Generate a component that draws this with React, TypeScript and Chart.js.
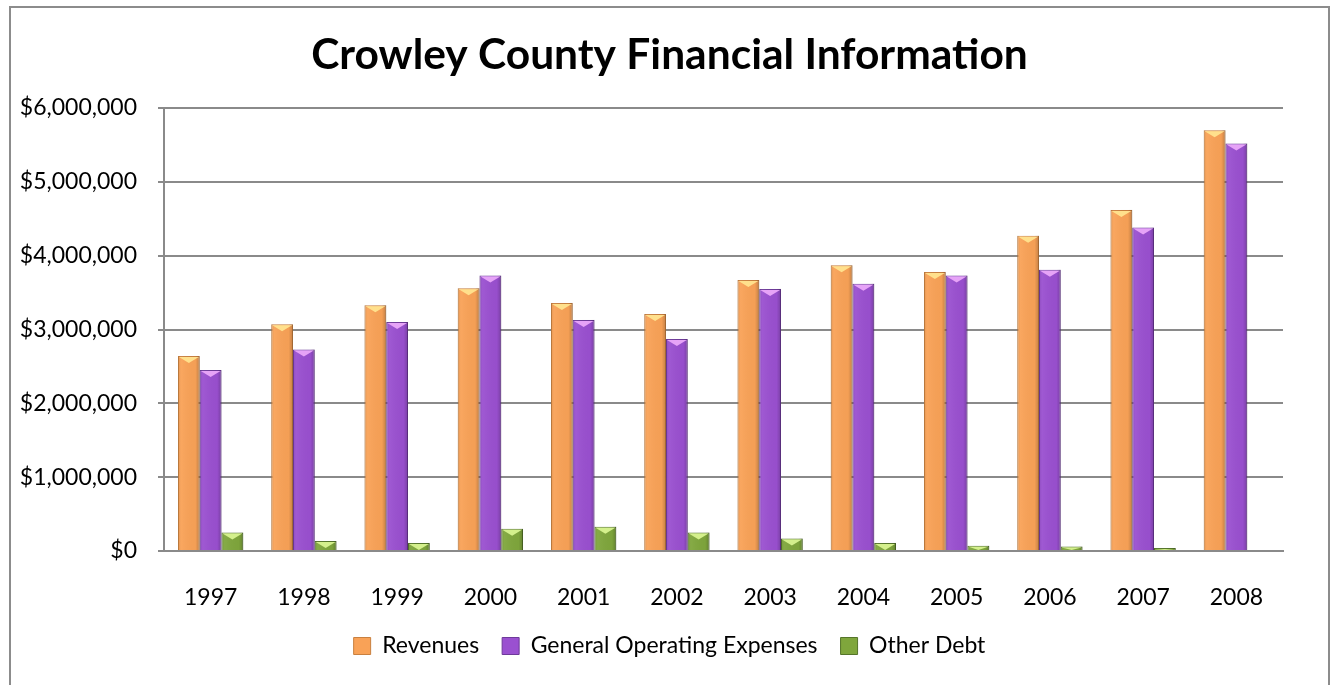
import React, { useEffect, useRef } from "react";
import { Chart, registerables } from "chart.js";

Chart.register(...registerables);

const years = ["1997", "1998", "1999", "2000", "2001", "2002", "2003", "2004", "2005", "2006", "2007", "2008"];
const revenues = [2640000, 3070000, 3330000, 3560000, 3360000, 3210000, 3670000, 3870000, 3780000, 4270000, 4620000, 5700000];
const operatingExpenses = [2450000, 2730000, 3100000, 3730000, 3130000, 2870000, 3550000, 3620000, 3730000, 3810000, 4380000, 5520000];
const otherDebt = [250000, 135000, 110000, 300000, 330000, 250000, 170000, 110000, 70000, 60000, 40000, 0];
const yTicks = [0, 1000000, 2000000, 3000000, 4000000, 5000000, 6000000];

const FONT = "Lato, 'Open Sans', sans-serif";

const bevelPlugin = {
  id: "bevel",
  afterDatasetsDraw(chart: any) {
    const ctx = chart.ctx;
    chart.data.datasets.forEach((ds: any, i: number) => {
      const meta = chart.getDatasetMeta(i);
      if (meta.hidden) return;
      meta.data.forEach((el: any) => {
        const { x, y, base, width } = el.getProps(["x", "y", "base", "width"], true);
        const h = base - y;
        if (h < 1) return;
        const left = x - width / 2;
        ctx.save();
        const g = ctx.createLinearGradient(left, 0, left + width, 0);
        g.addColorStop(0, "rgba(0,0,0,0.10)");
        g.addColorStop(0.15, "rgba(255,255,255,0.05)");
        g.addColorStop(0.8, "rgba(0,0,0,0.02)");
        g.addColorStop(1, "rgba(0,0,0,0.22)");
        ctx.fillStyle = g;
        ctx.fillRect(left, y, width, h);
        const th = Math.min(7, h);
        ctx.beginPath();
        ctx.moveTo(left + 1, y + 1);
        ctx.lineTo(left + width - 1, y + 1);
        ctx.lineTo(x, y + th);
        ctx.closePath();
        ctx.fillStyle = ds.bevelColor;
        ctx.fill();
        ctx.restore();
      });
    });
  },
};

export default function App() {
  const canvasRef = useRef<HTMLCanvasElement | null>(null);

  useEffect(() => {
    if (!canvasRef.current) return;
    const chart = new Chart(canvasRef.current, {
      type: "bar",
      data: {
        labels: years,
        datasets: [
          {
            label: "Revenues",
            data: revenues,
            backgroundColor: "#F9A257",
            borderColor: "#C9803F",
            borderWidth: 1,
            bevelColor: "#FFE08C",
          } as any,
          {
            label: "General Operating Expenses",
            data: operatingExpenses,
            backgroundColor: "#9A50D0",
            borderColor: "#6E3A9A",
            borderWidth: 1,
            bevelColor: "#E6A3F7",
          } as any,
          {
            label: "Other Debt",
            data: otherDebt,
            backgroundColor: "#7FA63C",
            borderColor: "#55752A",
            borderWidth: 1,
            bevelColor: "#D4F08C",
          } as any,
        ],
      },
      options: {
        responsive: true,
        maintainAspectRatio: false,
        animation: false,
        layout: { padding: { left: 0, right: 0, top: 0, bottom: 19.5 } },
        datasets: {
          bar: { barPercentage: 1, categoryPercentage: 0.7 },
        },
        plugins: {
          title: {
            display: true,
            text: "Crowley County Financial Information",
            color: "#000",
            font: { family: FONT, size: 42.5, weight: "bold" },
            padding: { top: 21.5, bottom: 27.5 },
          },
          legend: {
            position: "bottom",
            labels: {
              color: "#000",
              font: { family: FONT, size: 23 },
              boxWidth: 17,
              boxHeight: 17,
              padding: 23,
            },
          },
          tooltip: { enabled: false },
        },
        scales: {
          x: {
            grid: { display: false },
            border: { display: true, color: "#8a8a8a", width: 2 },
            ticks: { color: "#000", font: { family: FONT, size: 23 }, padding: 24.5 },
            afterFit: (axis: any) => {
              axis.height = 60.5;
            },
          },
          y: {
            min: 0,
            max: 6000000,
            afterBuildTicks: (axis: any) => {
              axis.ticks = yTicks.map((v) => ({ value: v }));
            },
            afterFit: (axis: any) => {
              axis.width = 153;
            },
            grid: { color: "#8a8a8a", lineWidth: 2, tickLength: 6, drawTicks: true },
            border: { display: true, color: "#8a8a8a", width: 2 },
            ticks: {
              color: "#000",
              font: { family: FONT, size: 23 },
              padding: 21,
              callback: (v: any) => "$" + Number(v).toLocaleString("en-US"),
            },
          },
          rightMargin: {
            type: "linear",
            position: "right",
            display: true,
            min: 0,
            max: 1,
            grid: { display: false, drawTicks: false },
            border: { display: false },
            ticks: { display: false },
            afterFit: (axis: any) => {
              axis.width = 45;
            },
          },
        },
      },
      plugins: [bevelPlugin],
    });
    return () => chart.destroy();
  }, []);

  return (
    <div
      style={{
        position: "absolute",
        left: 9,
        top: 6,
        width: 1321,
        height: 690,
        border: "2px solid #8c8c8c",
        boxSizing: "border-box",
        background: "#fff",
      }}
    >
      <div style={{ position: "relative", width: 1317, height: 679 }}>
        <canvas ref={canvasRef} />
      </div>
    </div>
  );
}
